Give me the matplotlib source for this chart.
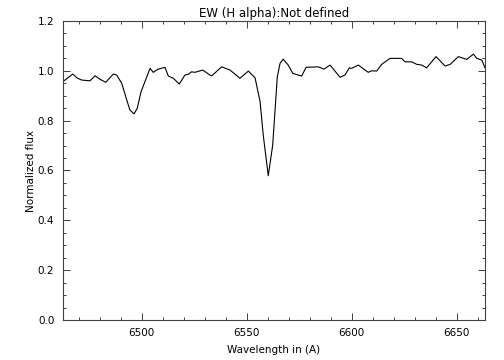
import matplotlib
matplotlib.use("Agg")
import matplotlib.pyplot as plt
from matplotlib.ticker import MultipleLocator

# spectrum
wave = [6462.4, 6467.2, 6469.1, 6471.4, 6475.4, 6477.8, 6480.2, 6482.9, 6486.5, 6488.1,
        6490.5, 6492.9, 6494.4, 6496.4, 6497.9, 6499.7, 6504.0, 6505.5, 6507.9, 6511.1,
        6512.7, 6515.1, 6517.9, 6520.6, 6522.2, 6523.8, 6525.4, 6529.1, 6532.5, 6533.4,
        6538.1, 6542.1, 6546.8, 6550.8, 6554.0, 6556.4, 6557.9, 6560.3, 6562.4, 6564.6,
        6565.9, 6567.4, 6569.8, 6571.9, 6576.2, 6578.3, 6584.1, 6586.8, 6589.7, 6594.5,
        6596.8, 6598.9, 6600.0, 6603.2, 6607.9, 6609.5, 6611.9, 6614.3, 6618.3, 6623.8,
        6625.4, 6628.6, 6631.0, 6633.4, 6635.7, 6640.2, 6644.5, 6646.9, 6650.8, 6654.8,
        6658.0, 6659.6, 6662.0, 6663.5]
flux = [0.956, 0.987, 0.972, 0.963, 0.960, 0.980, 0.966, 0.954, 0.987, 0.983,
        0.950, 0.883, 0.843, 0.827, 0.850, 0.916, 1.010, 0.994, 1.007, 1.014,
        0.979, 0.970, 0.947, 0.983, 0.986, 0.996, 0.994, 1.003, 0.983, 0.980,
        1.016, 1.003, 0.970, 0.999, 0.972, 0.876, 0.742, 0.579, 0.702, 0.976,
        1.030, 1.047, 1.023, 0.990, 0.979, 1.014, 1.016, 1.007, 1.023, 0.974,
        0.983, 1.012, 1.010, 1.023, 0.994, 1.000, 0.999, 1.026, 1.050, 1.050,
        1.036, 1.036, 1.026, 1.023, 1.012, 1.057, 1.019, 1.026, 1.057, 1.046,
        1.067, 1.050, 1.043, 1.012]

plt.rcParams["font.family"] = "DejaVu Sans"
fig = plt.figure(figsize=(5.04, 3.6), dpi=100)
ax = fig.add_axes([0.1244, 0.1111, 0.8379, 0.8306])
ax.plot(wave, flux, color="black", lw=0.8)

ax.set_xlim(6462.4, 6663.5)
ax.set_ylim(0.0, 1.2)
ax.xaxis.set_major_locator(MultipleLocator(50))
ax.xaxis.set_minor_locator(MultipleLocator(10))
ax.yaxis.set_major_locator(MultipleLocator(0.2))
ax.yaxis.set_minor_locator(MultipleLocator(0.05))
ax.yaxis.set_major_formatter(matplotlib.ticker.FormatStrFormatter("%.1f"))
ax.tick_params(which="both", direction="in", top=True, right=True, labelsize=7.5,
               width=0.7, color="0.25", pad=6)
ax.tick_params(which="major", length=5)
ax.tick_params(which="minor", length=2.5)
for sp in ax.spines.values():
    sp.set_linewidth(0.8)
    sp.set_color("0.25")

ax.set_xlabel("Wavelength in (A)", fontsize=7.5, labelpad=5)
ax.set_ylabel("Normalized flux", fontsize=7.5, labelpad=1)
ax.set_title("EW (H alpha):Not defined", fontsize=8.5, pad=3)

fig.savefig("out.png", dpi=100)
